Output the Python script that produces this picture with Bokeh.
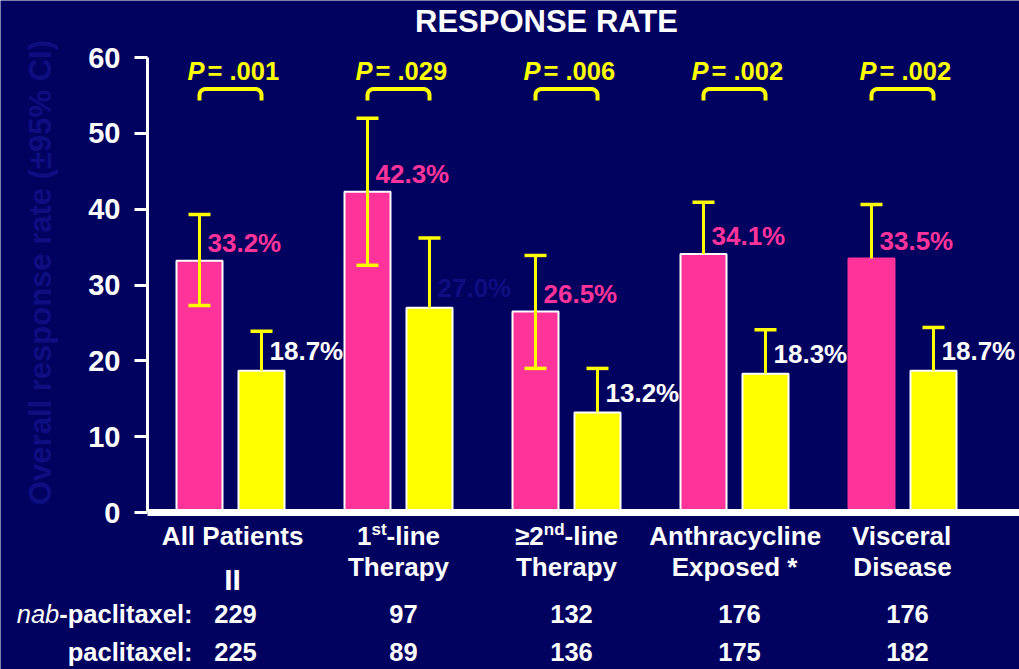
import numpy as np
from bokeh.plotting import figure
from bokeh.models import Range1d, Label, FixedTicker
from bokeh.embed import file_html
from bokeh.resources import INLINE

# ---------------- data ----------------
title_text = "RESPONSE RATE"
y_axis_text = "Overall response rate (±95% CI)"
y_ticks = [0, 10, 20, 30, 40, 50, 60]
# category labels: line 1 pieces ("^" marks superscript), line 2
cat_line1 = [["All Patients"], ["1", "^st", "-line"], ["≥2", "^nd", "-line"], ["Anthracycline"], ["Visceral"]]
cat_line2 = ["", "Therapy", "Therapy", "Exposed *", "Disease"]
nab_rate = [33.2, 42.3, 26.5, 34.1, 33.5]
nab_hi = [39.3, 52.0, 33.9, 40.9, 40.6]
nab_lo = [27.3, 32.6, 19.0, np.nan, np.nan]
pac_rate = [18.7, 27.0, 13.2, 18.3, 18.7]
pac_hi = [23.9, 36.2, 19.0, 24.1, 24.4]
p_values = [".001", ".029", ".006", ".002", ".002"]
n_nab = [229, 97, 132, 176, 176]
n_pac = [225, 89, 136, 175, 182]
row_nab = ["nab", "-paclitaxel:"]
row_pac = "paclitaxel:"

# ---------------- style ----------------
BG = "#010160"
FAINT = "#0E0E80"
PINK = "#FF3399"
YEL = "#FFFF00"
WHITE = "#FFFFFF"
FONT = "Liberation Sans"

AW = {'0': .556, '1': .556, '2': .556, '3': .556, '4': .556, '5': .556, '6': .556, '7': .556, '8': .556, '9': .556,
      's': .556, 't': .333, '-': .333, 'l': .278, 'i': .278, 'n': .611, 'e': .556, 'd': .611, '≥': .549,
      'P': .667, '=': .584, ' ': .278, '.': .278, 'a': .556, 'b': .611, 'p': .611, 'c': .556, 'x': .556, ':': .333}


def tw(s, size):
    return sum(AW.get(c, .556) for c in s) * size


W, H = 1019, 669
LEFT = 147
PX = 168.0                      # px per group unit
GX0 = 230                       # pixel position of first group centre
YPX = 455 / 60.0                # px per percentage point
BASE_FIX = 0.38                 # label baseline correction (fraction of font size)


def ydat(img_y):                # vertical pixel position -> data units
    return (512 - img_y) / YPX


def xdat(img_x):
    return (img_x - GX0) / PX


p = figure(width=W, height=H, output_backend="svg", toolbar_location=None,
           x_range=Range1d(xdat(0), xdat(W)), y_range=Range1d(ydat(H), ydat(0)),
           min_border_left=0, min_border_right=0, min_border_top=0, min_border_bottom=0,
           background_fill_color=BG, border_fill_color=BG, outline_line_color=None)
p.grid.visible = False

p.yaxis.fixed_location = xdat(LEFT)
p.yaxis.ticker = FixedTicker(ticks=y_ticks)
p.yaxis.bounds = (0, 60)
p.yaxis.axis_line_color = WHITE
p.yaxis.axis_line_width = 3
p.yaxis.major_tick_line_color = WHITE
p.yaxis.major_tick_line_width = 3
p.yaxis.major_tick_in = 0
p.yaxis.major_tick_out = 13
p.yaxis.minor_tick_line_color = None
p.yaxis.major_label_standoff = 14
p.yaxis.major_label_text_color = WHITE
p.yaxis.major_label_text_font = FONT
p.yaxis.major_label_text_font_style = "bold"
p.yaxis.major_label_text_font_size = "29px"

p.xaxis.fixed_location = 0
p.xaxis.bounds = (xdat(LEFT), xdat(W))
p.xaxis.ticker = FixedTicker(ticks=[])
p.xaxis.axis_line_color = WHITE
p.xaxis.axis_line_width = 7
p.xaxis.major_tick_line_color = None
p.xaxis.minor_tick_line_color = None
p.xaxis.major_label_text_font_size = "0px"

idx = np.arange(len(nab_rate))
OFF = 31 / PX
BW = 46 / PX

nab_outline = [WHITE, WHITE, WHITE, WHITE, PINK]
p.vbar(x=idx - OFF, top=nab_rate, bottom=0, width=BW, fill_color=PINK,
       line_color=nab_outline, line_width=2)
p.vbar(x=idx + OFF, top=pac_rate, bottom=0, width=BW, fill_color=YEL,
       line_color=WHITE, line_width=2)

# error bars
nab_rate_a = np.array(nab_rate)
nab_lo_a = np.array(nab_lo)
stem0 = np.where(np.isnan(nab_lo_a), nab_rate_a, nab_lo_a)
CAP = 11 / PX
p.segment(x0=idx - OFF, x1=idx - OFF, y0=stem0, y1=nab_hi, line_color=YEL, line_width=3)
p.segment(x0=idx - OFF - CAP, x1=idx - OFF + CAP, y0=nab_hi, y1=nab_hi, line_color=YEL, line_width=3.5)
m = ~np.isnan(nab_lo_a)
p.segment(x0=(idx - OFF - CAP)[m], x1=(idx - OFF + CAP)[m], y0=nab_lo_a[m], y1=nab_lo_a[m],
          line_color=YEL, line_width=3.5)
p.segment(x0=idx + OFF, x1=idx + OFF, y0=pac_rate, y1=pac_hi, line_color=YEL, line_width=3)
p.segment(x0=idx + OFF - CAP, x1=idx + OFF + CAP, y0=pac_hi, y1=pac_hi, line_color=YEL, line_width=3.5)

# brackets
btop, bbot = ydat(88.5), ydat(100)
r_px = 6.0
th = np.linspace(0, np.pi / 2, 7)
xs, ys = [], []
for i in idx:
    xa, xb = i - OFF, i + OFF
    lx = list(xa + (r_px - r_px * np.cos(th)) / PX)
    ly = list(btop - (r_px - r_px * np.sin(th)) / YPX)
    rx = list(xb - (r_px - r_px * np.cos(th[::-1])) / PX)
    ry = list(btop - (r_px - r_px * np.sin(th[::-1])) / YPX)
    xs.append([xa] + lx + rx + [xb])
    ys.append([bbot] + ly + ry + [bbot])
p.multi_line(xs=xs, ys=ys, line_color=YEL, line_width=4, line_join="round")


def lab(x, y, text, size, color=WHITE, style="bold", align="left", xo=0, font=FONT):
    # y is a data value for the text baseline
    p.add_layout(Label(x=x, y=y + BASE_FIX * size / YPX, text=text, text_font=font,
                       text_font_size=f"{size:.1f}px", text_font_style=style, text_color=color,
                       text_align=align, text_baseline="alphabetic", x_offset=xo))


lab(xdat(546), ydat(33), title_text, 31, align="center")
p.add_layout(Label(x=xdat(40), y=ydat(272), text=y_axis_text, text_font=FONT, text_font_size="31px",
                   text_font_style="bold", text_color=FAINT, text_align="center",
                   text_baseline="middle", angle=np.pi / 2))

# value labels
VS = 26
for i in idx:
    lab(i - OFF, nab_rate[i] + 1.05, f"{nab_rate[i]:.1f}%", VS, color=PINK, xo=8)
    col = FAINT if i == 1 else WHITE
    lab(i + OFF, pac_rate[i] + 1.3, f"{pac_rate[i]:.1f}%", VS, color=col, xo=8)

# P values
PS = 25.5
for i in idx:
    lab(i, ydat(80), "P", PS, color=YEL, style="bold italic", xo=-43)
    lab(i, ydat(80), "= " + p_values[i], PS, color=YEL, xo=-23)

# category labels
CS = 26
SS = 17
for i in idx:
    pieces = cat_line1[i]
    widths = [tw(pc[1:], SS) if pc.startswith("^") else tw(pc, CS) for pc in pieces]
    xo = -sum(widths) / 2
    for pc, wd in zip(pieces, widths):
        if pc.startswith("^"):
            lab(i, ydat(535), pc[1:], SS, xo=xo)
        else:
            lab(i, ydat(545), pc, CS, xo=xo)
        xo += wd
    if cat_line2[i]:
        lab(i, ydat(576), cat_line2[i], CS, align="center")
lab(0, ydat(590), "II", 30, align="center", xo=2)

# counts table
TS = 25.5
for i in idx:
    lab(i, ydat(623), str(n_nab[i]), TS, align="center", xo=5)
    lab(i, ydat(661), str(n_pac[i]), TS, align="center", xo=5)
lab(0, ydat(623), row_nab[1], TS, align="right", xo=-38)
lab(0, ydat(623), row_nab[0], TS, align="right", style="italic", xo=-38 - tw(row_nab[1], TS))
lab(0, ydat(661), row_pac, TS, align="right", xo=-38)

open("out.html", "w").write(file_html(p, INLINE))
